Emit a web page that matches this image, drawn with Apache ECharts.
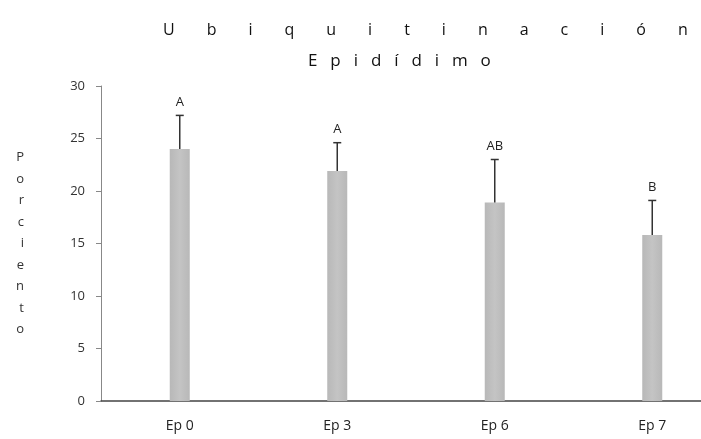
<!DOCTYPE html>
<html><head><meta charset="utf-8">
<script src="https://cdn.jsdelivr.net/npm/echarts@6/dist/echarts.min.js"></script>
<style>html,body{margin:0;padding:0;background:#fff}#c{width:701px;height:439px}</style>
</head><body><div id="c"></div>
<script>
const categories = ['Ep 0', 'Ep 3', 'Ep 6', 'Ep 7'];
const means = [24.0, 21.9, 18.9, 15.8];
const errors = [3.2, 2.7, 4.1, 3.3];
const letters = ['A', 'A', 'AB', 'B'];
const yTicks = [0, 5, 10, 15, 20, 25, 30];
const titleText = 'Ubiquitinación';
const subText = 'Epidídimo';
const yName = 'Porciento';

const chart = echarts.init(document.getElementById('c'));
const errData = categories.map((c, i) => [i, means[i], means[i] + errors[i], letters[i]]);
chart.setOption({
  animation: false,
  backgroundColor: '#fff',
  title: [
    { text: titleText.split('').join('\u2003\u2003'), left: 163, top: 22, padding: 0,
      textStyle: { fontFamily: 'Open Sans', fontSize: 16, fontWeight: 'normal', color: '#111', overflow: 'none' } },
    { text: subText.split('').join('\u2002 '), left: 303, top: 48,
      textStyle: { fontFamily: 'Open Sans', fontSize: 17, fontWeight: 'normal', color: '#111' } }
  ],
  grid: { left: 101, top: 86, width: 630, bottom: 38, outerBoundsMode: 'none', containLabel: false },
  xAxis: {
    type: 'category', data: categories,
    axisLine: { lineStyle: { color: '#444', width: 1.5 } },
    axisTick: { show: false },
    axisLabel: { color: '#222', fontSize: 14, fontFamily: 'Open Sans', margin: 18 }
  },
  yAxis: {
    type: 'value', min: 0, max: 30, interval: 5,
    name: yName.split('').join('\n'), nameLocation: 'middle', nameRotate: 0, nameGap: 77,
    nameTextStyle: { color: '#333', fontSize: 13, lineHeight: 21.5, fontFamily: 'Open Sans' },
    axisLine: { show: true, lineStyle: { color: '#888' } },
    axisTick: { show: true, length: 5, lineStyle: { color: '#888' } },
    splitLine: { show: false },
    axisLabel: { color: '#333', fontSize: 13, fontFamily: 'Open Sans', margin: 16,
      formatter: v => yTicks.includes(v) ? String(v) : '' }
  },
  series: [
    { type: 'bar', data: means, barWidth: 20,
      itemStyle: { color: new echarts.graphic.LinearGradient(0, 0, 1, 0, [
        { offset: 0, color: '#b8b8b8' }, { offset: 0.5, color: '#c4c4c4' }, { offset: 1, color: '#b8b8b8' }]) } },
    { type: 'custom', data: errData, z: 5,
      renderItem: (params, api) => {
        const base = api.coord([api.value(0), api.value(1)]);
        const top = api.coord([api.value(0), api.value(2)]);
        const lab = letters[params.dataIndex];
        return { type: 'group', children: [
          { type: 'line', shape: { x1: base[0], y1: base[1], x2: top[0], y2: top[1] }, style: { stroke: '#333', lineWidth: 1.5 } },
          { type: 'line', shape: { x1: top[0] - 4, y1: top[1], x2: top[0] + 4, y2: top[1] }, style: { stroke: '#333', lineWidth: 1.5 } },
          { type: 'text', x: top[0], y: top[1] - 7, style: { text: lab, align: 'center', verticalAlign: 'bottom',
            fill: '#222', fontSize: 13, fontFamily: 'Open Sans' } }
        ] };
      } }
  ]
});
</script></body></html>
